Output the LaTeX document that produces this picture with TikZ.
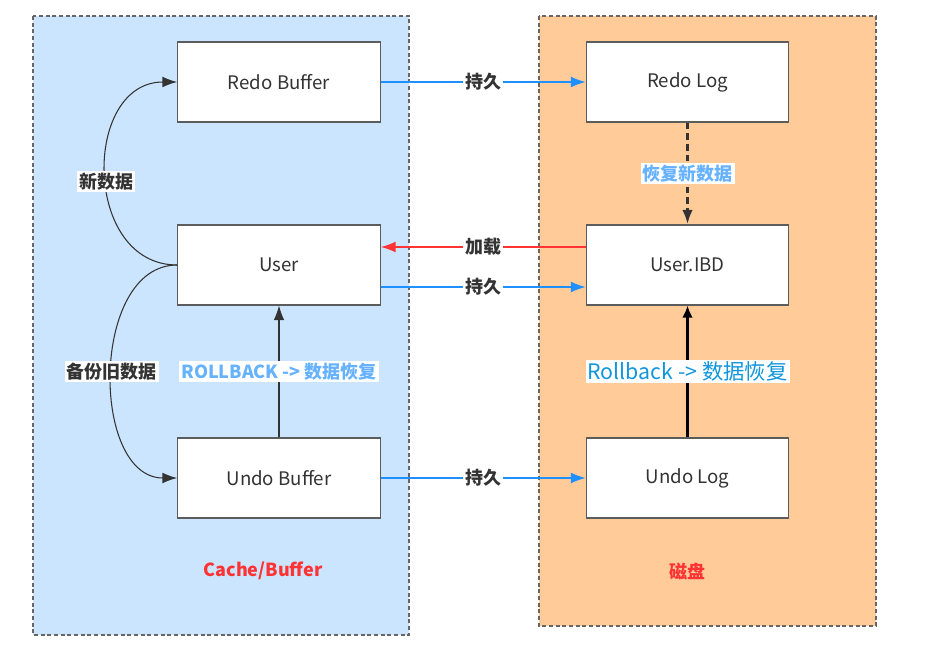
\documentclass[tikz,border=0pt]{standalone}
\usepackage{fontspec}
\setmainfont{Noto Sans CJK SC}
\usepackage{xcolor}
\usetikzlibrary{arrows.meta}
\definecolor{cachebg}{RGB}{204,229,255}
\definecolor{diskbg}{RGB}{255,204,153}
\definecolor{framegray}{RGB}{102,102,102}
\definecolor{persist}{RGB}{30,144,255}
\definecolor{loadred}{RGB}{255,51,51}
\definecolor{hintblue}{RGB}{102,178,255}
\definecolor{rollblue}{RGB}{17,150,220}
\definecolor{darktext}{RGB}{51,51,51}

\begin{document}
\begin{tikzpicture}[x=0.75pt,y=-0.75pt,
	panel/.style={draw=framegray,line width=1pt,dash pattern=on 3pt off 2pt},
	box/.style={draw=darktext!80,line width=0.8pt,fill=white,minimum width=152pt,minimum height=60pt,text=darktext,font=\fontsize{14}{16}\selectfont},
	lbl/.style={fill=white,inner sep=1.5pt,text=darktext,font=\bfseries\fontsize{13.5}{16}\selectfont},
	tip/.style={-{Latex[length=11pt,width=8pt]}},
	flow/.style={tip,line width=0.8pt},
	title/.style={text=loadred,font=\bfseries\fontsize{13.5}{16}\selectfont}]
	\useasboundingbox (0,0) rectangle (925,663);
	\draw[panel,fill=cachebg] (33,16) rectangle (409,635);
	\draw[panel,fill=diskbg] (539,16) rectangle (876,626);
	\node[box] (redobuf) at (279,82) {Redo Buffer};
	\node[box] (user) at (279,265) {User};
	\node[box] (undobuf) at (279,478) {Undo Buffer};
	\node[box] (redolog) at (687.5,82) {Redo Log};
	\node[box] (ibd) at (687.5,265) {User.IBD};
	\node[box] (undolog) at (687.5,478) {Undo Log};
	\node[title] (cachetitle) at (263,571) {Cache/Buffer};
	\node[title] (disktitle) at (687,571) {磁盘};
	\draw[flow,persist] (redobuf) -- node[lbl]{持久} (redolog);
	\draw[flow,loadred] ([yshift=13.5pt]ibd.west) -- node[lbl]{加载} ([yshift=13.5pt]user.east);
	\draw[flow,persist] ([yshift=-16.5pt]user.east) -- node[lbl]{持久} ([yshift=-16.5pt]ibd.west);
	\draw[flow,persist] (undobuf) -- node[lbl]{持久} (undolog);
	\draw[flow,darktext] (user.west) .. controls +(-95,0) and +(-95,0) .. node[lbl,pos=0.47]{新数据} (redobuf.west);
	\draw[flow,darktext] (user.west) .. controls +(-87,0) and +(-87,0) .. node[lbl]{备份旧数据} (undobuf.west);
	\draw[flow,darktext] (undobuf) -- node[lbl,text=hintblue]{ROLLBACK -> 数据恢复} (user);
	\draw[tip,darktext,line width=2.2pt,dash pattern=on 5pt off 3pt] (redolog) -- node[lbl,text=hintblue]{恢复新数据} (ibd);
	\draw[black,line width=2.2pt,-{Latex[length=9pt,width=8pt]}] (undolog) -- node[fill=white,inner sep=1.5pt,text=rollblue,font=\fontsize{16}{19}\selectfont]{Rollback -> 数据恢复} (ibd);
\end{tikzpicture}
\end{document}
